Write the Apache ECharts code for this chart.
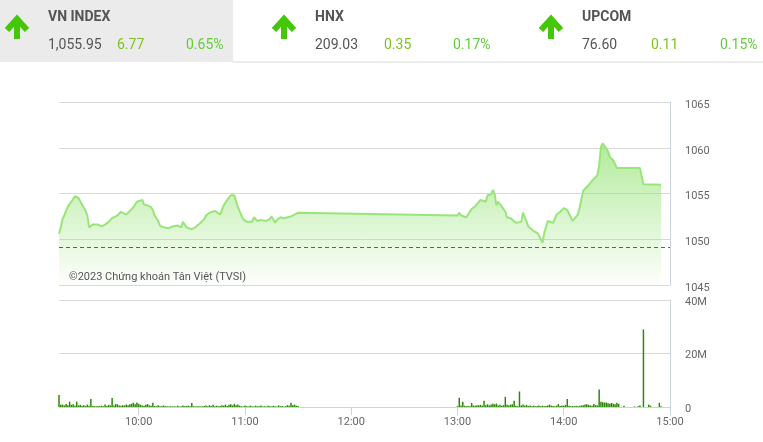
<!DOCTYPE html>
<html><head><meta charset="utf-8">
<script src="https://cdn.jsdelivr.net/npm/echarts@6/dist/echarts.min.js"></script>
<style>html,body{margin:0;padding:0;background:#fff}#c{width:763px;height:442px}</style>
</head><body><div id="c"></div>
<script>
// ---- header data ----
const indexNames = ["VN INDEX", "HNX", "UPCOM"];
const indexValues = ["1,055.95", "209.03", "76.60"];
const indexChanges = ["6.77", "0.35", "0.11"];
const indexPercents = ["0.65%", "0.17%", "0.15%"];
const referencePrice = 1049.18;

// ---- price line (time, value) ----
const lineTimes = ["09:15","09:16","09:17","09:18","09:20","09:22","09:24","09:25","09:26","09:28","09:30","09:31","09:32","09:34","09:35","09:37","09:39","09:41","09:43","09:45","09:48","09:50","09:51","09:53","09:55","09:57","09:59","10:00","10:02","10:03","10:05","10:07","10:08","10:09","10:11","10:12","10:14","10:17","10:19","10:22","10:24","10:25","10:27","10:28","10:30","10:32","10:33","10:35","10:37","10:38","10:40","10:43","10:44","10:46","10:48","10:50","10:52","10:53","10:54","10:55","10:56","10:58","10:59","11:01","11:02","11:04","11:05","11:07","11:09","11:10","11:12","11:14","11:15","11:17","11:18","11:20","11:22","11:24","11:26","11:28","11:30","13:00","13:01","13:02","13:03","13:05","13:06","13:08","13:10","13:11","13:13","13:14","13:16","13:17","13:18","13:19","13:20","13:21","13:22","13:23","13:24","13:26","13:27","13:28","13:30","13:31","13:33","13:34","13:36","13:37","13:38","13:40","13:41","13:43","13:45","13:46","13:47","13:48","13:49","13:50","13:51","13:52","13:54","13:56","13:58","14:00","14:02","14:03","14:05","14:06","14:08","14:09","14:10","14:11","14:12","14:14","14:15","14:16","14:17","14:19","14:20","14:21","14:22","14:23","14:24","14:25","14:26","14:28","14:29","14:30","14:43","14:45","14:55"];
const lineValues = [1050.6,1051.3,1052.2,1052.6,1053.6,1054.1,1054.7,1054.6,1054.5,1053.8,1053.1,1052.6,1051.3,1051.6,1051.5,1051.6,1051.4,1051.6,1051.9,1052.3,1052.6,1053.0,1052.9,1052.7,1053.1,1053.5,1054.1,1054.2,1054.3,1053.8,1053.7,1053.5,1053.2,1052.6,1052.0,1051.5,1051.3,1051.2,1051.4,1051.5,1051.3,1051.9,1051.3,1051.4,1051.1,1051.3,1051.5,1051.8,1052.2,1052.6,1052.9,1053.1,1053.0,1052.7,1053.7,1054.3,1054.8,1055.0,1054.8,1054.6,1053.5,1052.6,1052.2,1051.9,1052.0,1051.9,1052.4,1052.0,1052.1,1052.3,1052.0,1052.2,1052.5,1051.8,1052.1,1052.4,1052.3,1052.4,1052.5,1052.7,1052.9,1052.6,1052.9,1052.6,1052.5,1052.4,1052.3,1053.3,1053.6,1053.8,1054.3,1054.5,1054.1,1054.8,1054.7,1054.9,1055.4,1054.9,1053.7,1054.1,1054.0,1053.3,1053.0,1052.4,1052.3,1052.2,1051.8,1051.6,1051.9,1052.9,1052.4,1051.4,1051.2,1050.9,1050.7,1050.4,1050.3,1049.6,1050.7,1050.9,1052.0,1051.9,1051.8,1052.7,1053.0,1053.4,1053.2,1053.1,1052.0,1052.2,1052.7,1053.5,1054.4,1055.3,1055.5,1055.9,1056.1,1056.4,1056.6,1057.0,1058.1,1060.1,1060.5,1060.2,1059.9,1059.6,1059.0,1058.6,1058.2,1057.8,1057.8,1056.0,1055.95];

// ---- volume (millions), one bar per minute ----
const volMorningStart = "09:15";
const volMorning = [4.5,0.8,0.9,0.6,1.1,0.7,2.0,0.8,1.0,0.5,2.0,0.6,0.8,0.5,0.7,0.4,0.9,0.5,3.0,0.4,0.3,0.3,0.4,0.3,0.5,0.3,0.9,0.4,0.8,0.6,3.4,0.6,1.1,1.0,0.6,0.5,0.7,0.6,0.9,0.7,1.0,1.2,1.6,1.0,1.7,1.2,0.8,0.6,0.5,0.8,1.1,0.6,0.5,1.6,0.4,0.3,0.7,0.3,0.3,0.6,0.3,0.3,0.2,0.3,0.2,0.3,0.2,0.5,0.2,0.3,0.6,0.3,0.4,0.5,0.3,1.5,0.3,0.2,0.3,0.3,0.2,0.3,0.4,0.6,0.3,0.7,0.4,0.8,0.3,0.5,0.3,0.4,0.7,0.5,0.9,0.4,0.8,1.0,0.6,1.2,0.7,0.9,0.5,0.3,0.2,0.6,0.3,0.2,0.5,0.3,0.2,0.5,0.3,0.3,0.6,0.2,0.3,0.2,0.5,0.3,0.2,0.4,0.3,0.2,0.6,0.3,0.4,0.2,0.3,0.7,0.5,1.6,0.7,0.9,0.5,0.4];
const volAfternoonStart = "13:00";
const volAfternoon = [0.3,3.5,0.6,2.0,0.5,0.3,0.4,0.3,1.5,0.6,0.5,0.7,0.6,0.8,0.5,2.3,0.7,1.0,0.6,0.9,1.2,1.0,1.3,0.6,0.8,0.5,0.7,3.8,0.8,0.6,0.9,1.0,2.3,0.5,0.3,5.8,0.6,0.9,0.5,0.8,0.4,0.6,0.3,0.5,0.3,0.4,0.6,0.3,0.5,0.3,0.4,0.6,0.9,0.5,0.4,0.3,0.5,1.1,0.4,0.6,0.5,0.8,3.0,0.5,0.3,0.4,0.3,0.5,0.3,0.4,0.6,0.7,0.9,1.0,0.8,0.6,0.5,1.1,0.7,0.6,6.5,2.0,1.8,1.6,1.7,1.4,1.2,1.5,1.2,1.0,1.6,1.2];
const volLateTimes = ["14:34","14:40","14:42","14:43","14:45","14:48","14:49","14:54","14:55"];
const volLate = [0.5,0.2,0.3,0.6,29,0.9,0.5,1.6,0.3];

// ---- axes ----
const timeTicks = ["10:00","11:00","12:00","13:00","14:00","15:00"];
const priceTicks = [1045,1050,1055,1060,1065];
const volTicks = [0,20,40];
const axisStart = "09:15", axisEnd = "15:00";

const toMin = s => { const p = s.split(":"); return (+p[0])*60 + (+p[1]); };
const fmtT = m => String(Math.floor(m/60)).padStart(2,"0") + ":" + String(m%60).padStart(2,"0");

const lineData = lineTimes.map((t,i) => [toMin(t), lineValues[i]]);
const volData = [];
volMorning.forEach((v,i) => volData.push([toMin(volMorningStart)+i, v]));
volAfternoon.forEach((v,i) => volData.push([toMin(volAfternoonStart)+i, v]));
volLateTimes.forEach((t,i) => volData.push([toMin(t), volLate[i]]));

const chart = echarts.init(document.getElementById('c'), null, {renderer:'canvas'});
const FONT = 'Roboto, "Noto Sans", sans-serif';
const green = '#44c707';
function arrow(cx){
  return [
    {type:'polyline', shape:{points:[[cx-10,30],[cx,19],[cx+10,30]]}, style:{stroke:green, lineWidth:6, fill:null, lineJoin:'miter', lineCap:'butt'}},
    {type:'line', shape:{x1:cx, y1:18, x2:cx, y2:39}, style:{stroke:green, lineWidth:6}}
  ];
}
const panelX = [48, 315, 582];
const arrowX = [17, 284, 551];
const graphics = [
  {type:'rect', shape:{x:0,y:0,width:233,height:62}, style:{fill:'#ebebeb'}},
  {type:'line', shape:{x1:233,y1:62,x2:763,y2:62}, style:{stroke:'#ececec', lineWidth:2}}
];
for (let i=0;i<3;i++){
  graphics.push(...arrow(arrowX[i]));
  graphics.push({type:'text', x:panelX[i], y:17, style:{text:indexNames[i], fill:'#555', font:'bold 14px '+FONT, verticalAlign:'middle'}});
  graphics.push({type:'text', x:panelX[i], y:45, style:{text:indexValues[i], fill:'#555', font:'14px '+FONT, verticalAlign:'middle'}});
  graphics.push({type:'text', x:panelX[i]+69, y:45, style:{text:indexChanges[i], fill:'#7dc41f', font:'14px '+FONT, verticalAlign:'middle'}});
  graphics.push({type:'text', x:panelX[i]+138, y:45, style:{text:indexPercents[i], fill:'#62cc3a', font:'14px '+FONT, verticalAlign:'middle'}});
}
graphics.push({type:'text', x:69, y:277, style:{text:'©2023 Chứng khoán Tân Việt (TVSI)', fill:'#555', font:'11px '+FONT, verticalAlign:'middle'}, z:10});

const axisCol = '#c9d3e2', gridCol = '#d9d9d9', labCol = '#666';
chart.setOption({
  animation:false,
  graphic: graphics,
  grid:[
    {left:59, right:93, top:102, height:183},
    {left:59, right:93, top:300, height:107}
  ],
  xAxis:[
    {gridIndex:0, type:'value', min:toMin(axisStart), max:toMin(axisEnd), show:false},
    {gridIndex:1, type:'value', min:toMin(axisStart), max:toMin(axisEnd),
     axisLine:{show:true, lineStyle:{color:axisCol}},
     axisTick:{show:true, length:8, lineStyle:{color:axisCol}, customValues: timeTicks.map(toMin)},
     axisLabel:{color:labCol, fontSize:11, fontFamily:FONT, margin:10, customValues: timeTicks.map(toMin), formatter: v => fmtT(v), showMinLabel:true, showMaxLabel:true},
     splitLine:{show:false}}
  ],
  yAxis:[
    {gridIndex:0, type:'value', position:'right', min:priceTicks[0], max:priceTicks[priceTicks.length-1], interval:5,
     axisLine:{show:true, lineStyle:{color:axisCol}}, axisTick:{show:false},
     axisLabel:{color:labCol, fontSize:11, fontFamily:FONT, margin:15, verticalAlign:'top', lineHeight:6, formatter: v => String(v)},
     splitLine:{lineStyle:{color:gridCol}}},
    {gridIndex:1, type:'value', position:'right', min:volTicks[0], max:volTicks[volTicks.length-1], interval:20,
     axisLine:{show:true, lineStyle:{color:axisCol}}, axisTick:{show:false},
     axisLabel:{color:labCol, fontSize:11, fontFamily:FONT, margin:15, verticalAlign:'top', lineHeight:4, formatter: v => v===0 ? '0' : v+'M'},
     splitLine:{lineStyle:{color:gridCol}}}
  ],
  series:[
    {type:'line', xAxisIndex:0, yAxisIndex:0, data:lineData, symbol:'none', smooth:false,
     lineStyle:{color:'#98e578', width:2},
     areaStyle:{origin:'start', color:new echarts.graphic.LinearGradient(0,0,0,1,[
       {offset:0, color:'rgba(140,225,105,0.95)'},
       {offset:1, color:'rgba(140,225,105,0.03)'}])},
     markLine:{silent:true, symbol:'none', label:{show:false},
       lineStyle:{color:'#d0341f', type:[4,3], width:1},
       data:[{yAxis:referencePrice}]}},
    {type:'bar', xAxisIndex:1, yAxisIndex:1, data:volData, barWidth:1.5, itemStyle:{color:'#2d8a06'}}
  ]
});
</script></body></html>
